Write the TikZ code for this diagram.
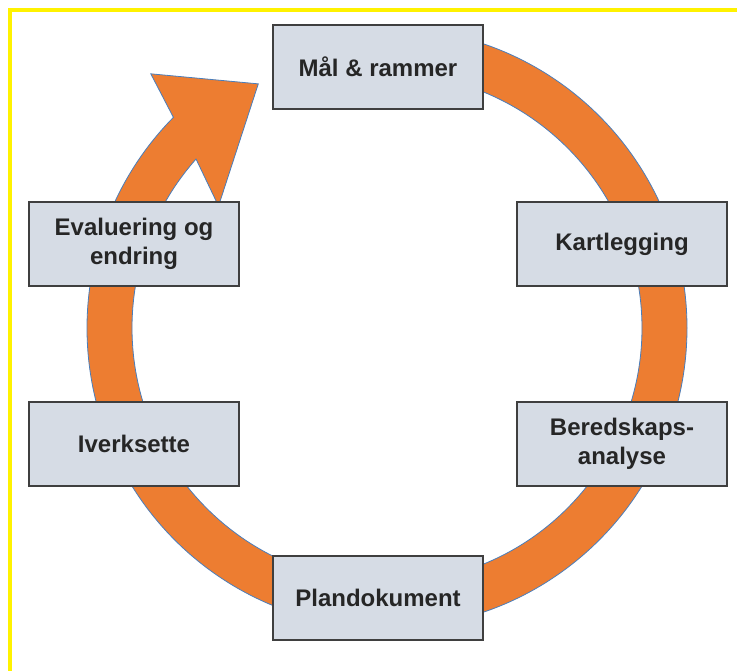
\documentclass[tikz,border=0pt]{standalone}
\usepackage{fontspec}
\setmainfont{Liberation Sans}
\usepackage{tikz}
\definecolor{ringfill}{HTML}{ED7D31}
\definecolor{ringline}{HTML}{4A7EBB}
\definecolor{boxfill}{HTML}{D6DCE5}
\definecolor{boxline}{HTML}{3F3F3F}
\tikzstyle{stage}=[
  rectangle,
  fill=boxfill,
  draw=boxline,
  line width=1.5pt,
  minimum width=210pt,
  minimum height=84pt,
  align=center,
  text=black!85,
  font=\fontsize{24}{29}\selectfont\bfseries,
]
\tikzstyle{ringarrow}=[
  fill=ringfill,
  draw=ringline,
  line width=.8pt,
]
\tikzset{
  x=1pt,
  y=-1pt,
}

\begin{document}
\begin{tikzpicture}
  \useasboundingbox (0,0) rectangle (737,671);
  \draw[yellow, line width=4pt] (10,671) -- (10,10) -- (737,10);
  % the ring goes behind the boxes
  \begin{scope}[shift={(387,328)}, yscale=-1]
    \filldraw[ringarrow] (90:300)
      arc[start angle=90, end angle=-224.6, radius=300]
      -- (-227.1:347) -- (-242.2:276) -- (-215.9:208)
      -- (-221.5:255)
      arc[start angle=-221.5, end angle=90, radius=255] -- cycle;
  \end{scope}
  \node[stage] (maal) at (378,67) {Mål \& rammer};
  \node[stage] (kart) at (622,244) {Kartlegging};
  \node[stage] (bered) at (622,444) {Beredskaps-\\analyse};
  \node[stage] (plan) at (378,598) {Plandokument};
  \node[stage] (iverk) at (134,444) {Iverksette};
  \node[stage] (eval) at (134,244) {Evaluering og\\endring};
\end{tikzpicture}
\end{document}
